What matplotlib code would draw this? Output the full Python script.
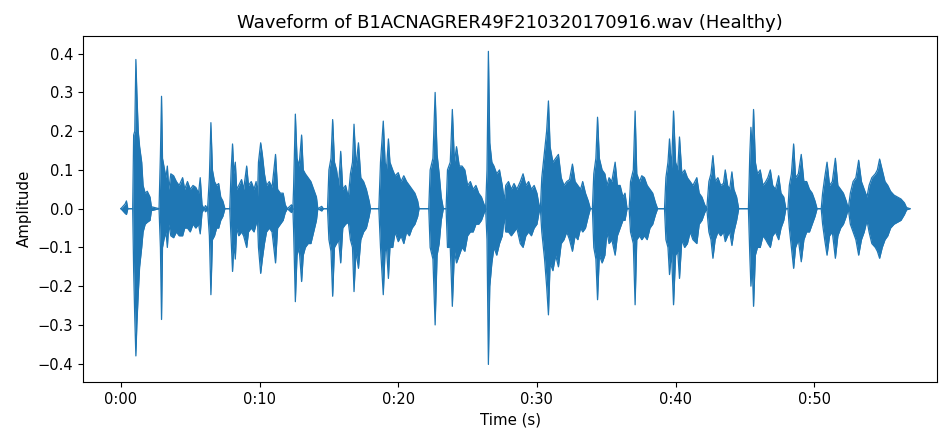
import numpy as np
import matplotlib
matplotlib.use("Agg")
import matplotlib.pyplot as plt
from matplotlib.ticker import MultipleLocator, FuncFormatter

fname = "B1ACNAGRER49F210320170916.wav"
label = "Healthy"

# envelope of the waveform: time (s), upper and lower amplitude
t_env = [0.0, 0.30, 0.40, 0.50, 0.85,
         0.92, 1.0, 1.08, 1.15, 1.25, 1.35, 1.5, 1.6, 1.75, 1.9, 2.1, 2.2, 2.75,
         2.85, 2.93, 3.0, 3.1, 3.25, 3.35, 3.45, 3.6, 3.8, 4.0, 4.2, 4.45, 4.6, 4.8,
         5.0, 5.2, 5.4, 5.6, 5.72, 5.85, 6.0, 6.1, 6.25,
         6.38, 6.49, 6.6, 6.75, 6.9, 7.05, 7.2, 7.35, 7.5, 7.85,
         7.95, 8.05, 8.15, 8.25, 8.35, 8.5, 8.7, 8.85, 9.07, 9.2, 9.4, 9.6, 9.75, 9.85,
         9.92, 10.08, 10.2, 10.35, 10.5, 10.7, 10.9, 11.15, 11.3, 11.5, 11.7, 11.85,
         12.0, 12.3, 12.4,
         12.45, 12.58, 12.7, 12.85, 13.03, 13.15, 13.3, 13.5, 13.7, 13.9, 14.1, 14.2,
         14.48, 14.6, 14.9,
         15.0, 15.15, 15.27, 15.4, 15.55, 15.7, 15.85, 16.0, 16.2, 16.4, 16.55, 16.7,
         16.81, 16.95, 17.13, 17.3, 17.5, 17.7, 17.9, 18.0, 18.6,
         18.72, 18.92, 19.05, 19.15, 19.29, 19.4, 19.6, 19.77, 20.0, 20.2, 20.4, 20.6,
         20.8, 21.0, 21.2, 21.4, 21.5, 22.2,
         22.3, 22.5, 22.66, 22.8, 22.95, 23.1, 23.25, 23.45,
         23.55, 23.75, 23.9, 24.05, 24.2, 24.4, 24.6, 24.8, 25.0, 25.2, 25.4, 25.6,
         25.8, 26.0, 26.2, 26.3,
         26.4, 26.5, 26.6, 26.75, 26.9, 27.1, 27.3, 27.5, 27.65, 27.75, 27.95, 28.15,
         28.35, 28.55, 28.8, 29.0, 29.2, 29.4, 29.6, 29.8, 30.0, 30.15, 30.25,
         30.35, 30.55, 30.7, 30.83, 30.95, 31.15, 31.35, 31.55, 31.75, 31.95, 32.15,
         32.35, 32.56, 32.75, 32.95, 33.15, 33.3, 33.5, 33.7, 33.85, 34.0,
         34.1, 34.25, 34.37, 34.5, 34.7, 34.9, 35.05, 35.2, 35.4, 35.64, 35.8, 36.0,
         36.2, 36.35, 36.5, 36.65,
         36.75, 36.95, 37.08, 37.2, 37.4, 37.56, 37.75, 37.95, 38.15, 38.35, 38.55,
         38.7, 39.2,
         39.3, 39.45, 39.56, 39.7, 39.85, 40.0, 40.15, 40.28, 40.45, 40.65, 40.85,
         41.05, 41.25, 41.53, 41.7, 41.9, 42.1, 42.25,
         42.4, 42.55, 42.69, 42.85, 43.05, 43.25, 43.45, 43.58, 43.75, 43.9, 44.06,
         44.2, 44.4, 44.55, 45.25,
         45.35, 45.43, 45.52, 45.62, 45.75, 45.9, 46.1, 46.3, 46.5, 46.65, 46.83, 47.0,
         47.2, 47.43, 47.6, 47.8, 47.95, 48.1,
         48.2, 48.35, 48.51, 48.65, 48.85, 49.06, 49.25, 49.45, 49.65, 49.85, 50.05,
         50.2, 50.5,
         50.6, 50.75, 50.92, 51.1, 51.3, 51.52, 51.7, 51.9, 52.1, 52.3, 52.45,
         52.6, 52.8, 53.0, 53.2, 53.4, 53.6, 53.8,
         53.95, 54.15, 54.4, 54.55, 54.71, 54.9, 55.1, 55.3, 55.5, 55.75, 56.0, 56.25,
         56.5, 56.65, 56.9]

env_top = [0.0, 0.012, 0.02, 0.0, 0.0,
           0.19, 0.20, 0.385, 0.30, 0.20, 0.16, 0.12, 0.06, 0.04, 0.045, 0.03, 0.005, 0.0,
           0.14, 0.29, 0.13, 0.11, 0.08, 0.11, 0.05, 0.09, 0.085, 0.07, 0.06, 0.08, 0.05, 0.07,
           0.05, 0.06, 0.055, 0.04, 0.08, 0.01, 0.0, 0.008, 0.0,
           0.08, 0.222, 0.10, 0.07, 0.06, 0.065, 0.03, 0.02, 0.0, 0.0,
           0.10, 0.167, 0.09, 0.12, 0.05, 0.06, 0.075, 0.05, 0.11, 0.06, 0.07, 0.05, 0.07, 0.03,
           0.12, 0.17, 0.14, 0.09, 0.06, 0.07, 0.055, 0.14, 0.05, 0.04, 0.04, 0.01,
           0.0, 0.01, 0.0,
           0.05, 0.244, 0.13, 0.11, 0.19, 0.10, 0.09, 0.08, 0.07, 0.05, 0.03, 0.0,
           0.006, 0.0, 0.0,
           0.10, 0.13, 0.23, 0.12, 0.10, 0.06, 0.148, 0.05, 0.06, 0.03, 0.09, 0.12,
           0.218, 0.11, 0.17, 0.08, 0.07, 0.05, 0.02, 0.0, 0.0,
           0.12, 0.226, 0.12, 0.10, 0.18, 0.12, 0.10, 0.085, 0.093, 0.07, 0.085, 0.07,
           0.06, 0.05, 0.04, 0.02, 0.0, 0.0,
           0.10, 0.13, 0.30, 0.14, 0.09, 0.03, 0.0, 0.0,
           0.10, 0.12, 0.256, 0.12, 0.16, 0.11, 0.11, 0.10, 0.06, 0.07, 0.05, 0.06,
           0.04, 0.03, 0.01, 0.0,
           0.10, 0.406, 0.17, 0.12, 0.11, 0.09, 0.10, 0.06, 0.02, 0.06, 0.07, 0.05,
           0.065, 0.05, 0.07, 0.09, 0.06, 0.07, 0.05, 0.06, 0.04, 0.01, 0.0,
           0.08, 0.15, 0.20, 0.278, 0.16, 0.12, 0.13, 0.14, 0.08, 0.06, 0.07,
           0.075, 0.115, 0.07, 0.06, 0.05, 0.07, 0.04, 0.02, 0.0, 0.0,
           0.09, 0.13, 0.236, 0.13, 0.10, 0.09, 0.06, 0.08, 0.07, 0.12, 0.06, 0.06,
           0.03, 0.04, 0.0, 0.0,
           0.07, 0.10, 0.252, 0.09, 0.07, 0.085, 0.08, 0.06, 0.05, 0.04, 0.015,
           0.0, 0.0,
           0.08, 0.12, 0.18, 0.10, 0.252, 0.12, 0.10, 0.185, 0.09, 0.10, 0.08,
           0.07, 0.06, 0.08, 0.04, 0.03, 0.01, 0.0,
           0.07, 0.09, 0.137, 0.07, 0.08, 0.06, 0.065, 0.10, 0.06, 0.05, 0.095,
           0.05, 0.03, 0.0, 0.0,
           0.14, 0.21, 0.15, 0.256, 0.12, 0.09, 0.10, 0.06, 0.07, 0.08, 0.10, 0.06,
           0.05, 0.085, 0.04, 0.03, 0.0, 0.0,
           0.06, 0.09, 0.167, 0.08, 0.09, 0.14, 0.07, 0.07, 0.05, 0.04, 0.02,
           0.0, 0.0,
           0.04, 0.08, 0.12, 0.06, 0.07, 0.13, 0.06, 0.05, 0.04, 0.02, 0.0,
           0.04, 0.07, 0.08, 0.125, 0.07, 0.05, 0.03,
           0.06, 0.08, 0.09, 0.10, 0.128, 0.10, 0.07, 0.06, 0.045, 0.035, 0.03, 0.025,
           0.015, 0.003, 0.0]

env_bot = [0.0, -0.012, -0.015, 0.0, 0.0,
           -0.16, -0.28, -0.38, -0.30, -0.22, -0.15, -0.10, -0.06, -0.04, -0.035, -0.03, -0.005, 0.0,
           -0.10, -0.286, -0.10, -0.08, -0.06, -0.10, -0.04, -0.07, -0.075, -0.06, -0.07, -0.07, -0.05, -0.05,
           -0.06, -0.04, -0.05, -0.04, -0.065, -0.01, 0.0, -0.008, 0.0,
           -0.07, -0.222, -0.08, -0.07, -0.05, -0.05, -0.03, -0.02, 0.0, 0.0,
           -0.08, -0.162, -0.09, -0.13, -0.05, -0.07, -0.06, -0.07, -0.10, -0.06, -0.05, -0.06, -0.04, -0.03,
           -0.10, -0.167, -0.13, -0.09, -0.06, -0.05, -0.06, -0.14, -0.05, -0.04, -0.03, -0.01,
           0.0, -0.01, 0.0,
           -0.05, -0.24, -0.12, -0.10, -0.188, -0.12, -0.10, -0.09, -0.09, -0.06, -0.03, 0.0,
           -0.006, 0.0, 0.0,
           -0.08, -0.11, -0.226, -0.10, -0.09, -0.08, -0.14, -0.05, -0.04, -0.035, -0.08, -0.10,
           -0.214, -0.11, -0.154, -0.08, -0.06, -0.05, -0.02, 0.0, 0.0,
           -0.10, -0.222, -0.11, -0.10, -0.18, -0.10, -0.10, -0.06, -0.085, -0.07, -0.09, -0.06,
           -0.07, -0.05, -0.04, -0.02, 0.0, 0.0,
           -0.10, -0.13, -0.30, -0.12, -0.09, -0.03, 0.0, 0.0,
           -0.10, -0.10, -0.252, -0.11, -0.14, -0.12, -0.10, -0.11, -0.07, -0.06, -0.06, -0.04,
           -0.04, -0.03, -0.01, 0.0,
           -0.08, -0.402, -0.20, -0.14, -0.10, -0.12, -0.09, -0.07, -0.02, -0.06, -0.06, -0.07,
           -0.06, -0.05, -0.09, -0.10, -0.07, -0.06, -0.07, -0.05, -0.04, -0.01, 0.0,
           -0.06, -0.13, -0.20, -0.274, -0.14, -0.16, -0.12, -0.15, -0.09, -0.08, -0.06,
           -0.08, -0.11, -0.07, -0.08, -0.05, -0.06, -0.05, -0.02, 0.0, 0.0,
           -0.10, -0.13, -0.235, -0.12, -0.14, -0.12, -0.06, -0.09, -0.08, -0.12, -0.07, -0.05,
           -0.03, -0.03, 0.0, 0.0,
           -0.06, -0.09, -0.248, -0.08, -0.07, -0.08, -0.07, -0.08, -0.05, -0.04, -0.015,
           0.0, 0.0,
           -0.08, -0.10, -0.17, -0.11, -0.248, -0.12, -0.11, -0.18, -0.08, -0.10, -0.09,
           -0.06, -0.08, -0.09, -0.04, -0.03, -0.01, 0.0,
           -0.06, -0.08, -0.128, -0.08, -0.06, -0.07, -0.06, -0.085, -0.07, -0.06, -0.095,
           -0.06, -0.03, 0.0, 0.0,
           -0.12, -0.20, -0.14, -0.252, -0.12, -0.10, -0.10, -0.07, -0.08, -0.09, -0.10, -0.07,
           -0.06, -0.08, -0.05, -0.03, 0.0, 0.0,
           -0.05, -0.10, -0.154, -0.10, -0.08, -0.137, -0.08, -0.06, -0.06, -0.04, -0.02,
           0.0, 0.0,
           -0.04, -0.08, -0.12, -0.07, -0.06, -0.128, -0.07, -0.05, -0.04, -0.02, 0.0,
           -0.04, -0.06, -0.08, -0.12, -0.08, -0.06, -0.03,
           -0.06, -0.09, -0.10, -0.11, -0.128, -0.10, -0.08, -0.07, -0.05, -0.04, -0.035, -0.03,
           -0.015, -0.003, 0.0]

t_env = np.array(t_env)
env_top = np.array(env_top)
env_bot = np.array(env_bot)

fig = plt.figure(figsize=(9.42, 4.32), dpi=100)
ax = fig.add_axes([0.088, 0.116, 0.907, 0.801])

col = "#1f77b4"
ax.fill_between(t_env, env_bot, env_top, color=col, linewidth=0)
ax.plot(t_env, env_top, color=col, lw=0.9)
ax.plot(t_env, env_bot, color=col, lw=0.9)

ax.set_xlim(-2.74, 58.87)
ax.set_ylim(-0.447, 0.446)
ax.xaxis.set_major_locator(MultipleLocator(10))
ax.xaxis.set_major_formatter(FuncFormatter(lambda x, p: f"{int(x // 60)}:{int(round(x % 60)):02d}"))
ax.yaxis.set_major_locator(MultipleLocator(0.1))
ax.tick_params(labelsize=10.5)

ax.set_title(f"Waveform of {fname} ({label})", fontsize=13)
ax.set_xlabel("Time (s)", fontsize=10.8)
ax.set_ylabel("Amplitude", fontsize=10.8)

fig.savefig("out.png", dpi=100)
